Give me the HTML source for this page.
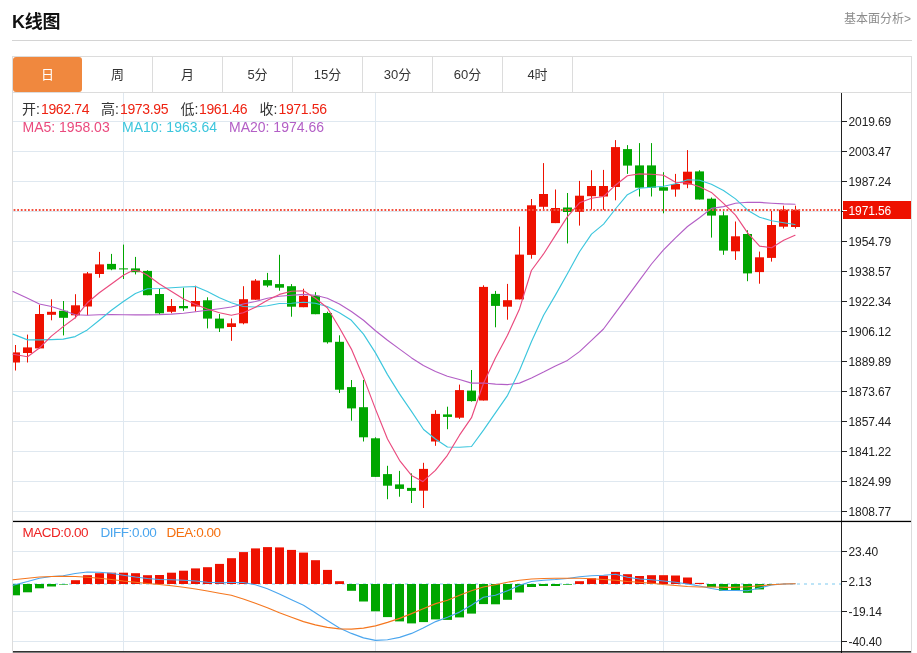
<!DOCTYPE html>
<html lang="zh-CN"><head><meta charset="utf-8"><title>K线图</title>
<style>
html,body{margin:0;padding:0;background:#fff;}
body{width:917px;height:653px;position:relative;overflow:hidden;font-family:"Liberation Sans","Noto Sans CJK SC",sans-serif;color:#333;}
.title{position:absolute;left:12px;top:8.5px;font-size:18px;font-weight:bold;color:#111;line-height:26px;letter-spacing:-0.3px;}
.more{position:absolute;right:6px;top:10px;font-size:12px;color:#8c8c8c;line-height:18px;}
.hr{position:absolute;left:12px;top:40px;width:900px;height:1px;background:#d4d4d4;}
.tabs{position:absolute;left:12px;top:56px;width:898px;height:35px;border:1px solid #dcdcdc;}
.tab{position:absolute;top:0;width:69px;height:35px;border-right:1px solid #dcdcdc;text-align:center;line-height:35px;font-size:13px;color:#333;}
.tab.on{background:#f0883e;color:#fff;border-right:0;border-radius:3px;}
.rb{position:absolute;left:911px;top:92px;width:1px;height:561px;background:#dcdcdc;}
.n{letter-spacing:-0.35px}.s{letter-spacing:-0.5px;word-spacing:-3px}
.t{position:absolute;white-space:nowrap;font-size:14px;line-height:18px;}
svg{position:absolute;left:0;top:0;}
.ax{font-family:"Liberation Sans",sans-serif;font-size:12px;fill:#222;letter-spacing:-0.1px;}
</style></head><body>
<div class="title">K线图</div>
<div class="more">基本面分析&gt;</div>
<div class="hr"></div>
<div class="tabs">
<div class="tab on" style="left:0">日</div>
<div class="tab" style="left:70px">周</div>
<div class="tab" style="left:140px">月</div>
<div class="tab" style="left:210px">5分</div>
<div class="tab" style="left:280px">15分</div>
<div class="tab" style="left:350px">30分</div>
<div class="tab" style="left:420px">60分</div>
<div class="tab" style="left:490px">4时</div>
</div>
<div class="rb"></div>
<svg width="917" height="653" viewBox="0 0 917 653">
<rect x="13" y="121" width="828" height="1" fill="#dfe8f0"/>
<rect x="13" y="151" width="828" height="1" fill="#dfe8f0"/>
<rect x="13" y="181" width="828" height="1" fill="#dfe8f0"/>
<rect x="13" y="211" width="828" height="1" fill="#dfe8f0"/>
<rect x="13" y="241" width="828" height="1" fill="#dfe8f0"/>
<rect x="13" y="271" width="828" height="1" fill="#dfe8f0"/>
<rect x="13" y="301" width="828" height="1" fill="#dfe8f0"/>
<rect x="13" y="331" width="828" height="1" fill="#dfe8f0"/>
<rect x="13" y="361" width="828" height="1" fill="#dfe8f0"/>
<rect x="13" y="391" width="828" height="1" fill="#dfe8f0"/>
<rect x="13" y="421" width="828" height="1" fill="#dfe8f0"/>
<rect x="13" y="451" width="828" height="1" fill="#dfe8f0"/>
<rect x="13" y="481" width="828" height="1" fill="#dfe8f0"/>
<rect x="13" y="511" width="828" height="1" fill="#dfe8f0"/>
<rect x="13" y="551" width="828" height="1" fill="#dfe8f0"/>
<rect x="13" y="611" width="828" height="1" fill="#dfe8f0"/>
<rect x="13" y="641" width="828" height="1" fill="#dfe8f0"/>
<rect x="123" y="93" width="1" height="558" fill="#dfe8f0"/>
<rect x="375" y="93" width="1" height="558" fill="#dfe8f0"/>
<rect x="663" y="93" width="1" height="558" fill="#dfe8f0"/>
<rect x="12" y="93" width="1" height="560" fill="#dcdcdc"/>
<line x1="13" y1="584" x2="841" y2="584" stroke="#a8dcf5" stroke-width="1.5" stroke-dasharray="3,4"/>
<clipPath id="cp"><rect x="13" y="93" width="828" height="560"/></clipPath><g clip-path="url(#cp)">
<rect x="11" y="584" width="9" height="11.3" fill="#00a600"/>
<rect x="23" y="584" width="9" height="8.3" fill="#00a600"/>
<rect x="35" y="584" width="9" height="4.3" fill="#00a600"/>
<rect x="47" y="584" width="9" height="2.5" fill="#00a600"/>
<rect x="59" y="584" width="9" height="0.6" fill="#00a600"/>
<rect x="71" y="580.2" width="9" height="3.8" fill="#ee1100"/>
<rect x="83" y="575.2" width="9" height="8.8" fill="#ee1100"/>
<rect x="95" y="573.2" width="9" height="10.8" fill="#ee1100"/>
<rect x="107" y="572.7" width="9" height="11.3" fill="#ee1100"/>
<rect x="119" y="572.7" width="9" height="11.3" fill="#ee1100"/>
<rect x="131" y="573.2" width="9" height="10.8" fill="#ee1100"/>
<rect x="143" y="575.2" width="9" height="8.8" fill="#ee1100"/>
<rect x="155" y="575.0" width="9" height="9.0" fill="#ee1100"/>
<rect x="167" y="572.7" width="9" height="11.3" fill="#ee1100"/>
<rect x="179" y="570.7" width="9" height="13.3" fill="#ee1100"/>
<rect x="191" y="568.4" width="9" height="15.6" fill="#ee1100"/>
<rect x="203" y="567.2" width="9" height="16.8" fill="#ee1100"/>
<rect x="215" y="563.9" width="9" height="20.1" fill="#ee1100"/>
<rect x="227" y="558.2" width="9" height="25.8" fill="#ee1100"/>
<rect x="239" y="552.1" width="9" height="31.9" fill="#ee1100"/>
<rect x="251" y="548.4" width="9" height="35.6" fill="#ee1100"/>
<rect x="263" y="547.1" width="9" height="36.9" fill="#ee1100"/>
<rect x="275" y="547.4" width="9" height="36.6" fill="#ee1100"/>
<rect x="287" y="549.9" width="9" height="34.1" fill="#ee1100"/>
<rect x="299" y="552.6" width="9" height="31.4" fill="#ee1100"/>
<rect x="311" y="560.2" width="9" height="23.8" fill="#ee1100"/>
<rect x="323" y="569.9" width="9" height="14.1" fill="#ee1100"/>
<rect x="335" y="581.2" width="9" height="2.8" fill="#ee1100"/>
<rect x="347" y="584" width="9" height="6.8" fill="#00a600"/>
<rect x="359" y="584" width="9" height="17.5" fill="#00a600"/>
<rect x="371" y="584" width="9" height="27.3" fill="#00a600"/>
<rect x="383" y="584" width="9" height="33.1" fill="#00a600"/>
<rect x="395" y="584" width="9" height="37.4" fill="#00a600"/>
<rect x="407" y="584" width="9" height="39.4" fill="#00a600"/>
<rect x="419" y="584" width="9" height="38.1" fill="#00a600"/>
<rect x="431" y="584" width="9" height="35.4" fill="#00a600"/>
<rect x="443" y="584" width="9" height="35.9" fill="#00a600"/>
<rect x="455" y="584" width="9" height="33.4" fill="#00a600"/>
<rect x="467" y="584" width="9" height="29.6" fill="#00a600"/>
<rect x="479" y="584" width="9" height="20.1" fill="#00a600"/>
<rect x="491" y="584" width="9" height="20.3" fill="#00a600"/>
<rect x="503" y="584" width="9" height="15.8" fill="#00a600"/>
<rect x="515" y="584" width="9" height="8.5" fill="#00a600"/>
<rect x="527" y="584" width="9" height="3.0" fill="#00a600"/>
<rect x="539" y="584" width="9" height="2.0" fill="#00a600"/>
<rect x="551" y="584" width="9" height="2.0" fill="#00a600"/>
<rect x="563" y="584" width="9" height="0.7" fill="#00a600"/>
<rect x="575" y="581.2" width="9" height="2.8" fill="#ee1100"/>
<rect x="587" y="578.2" width="9" height="5.8" fill="#ee1100"/>
<rect x="599" y="575.7" width="9" height="8.3" fill="#ee1100"/>
<rect x="611" y="571.9" width="9" height="12.1" fill="#ee1100"/>
<rect x="623" y="574.2" width="9" height="9.8" fill="#ee1100"/>
<rect x="635" y="576.0" width="9" height="8.0" fill="#ee1100"/>
<rect x="647" y="575.2" width="9" height="8.8" fill="#ee1100"/>
<rect x="659" y="575.2" width="9" height="8.8" fill="#ee1100"/>
<rect x="671" y="575.5" width="9" height="8.5" fill="#ee1100"/>
<rect x="683" y="577.5" width="9" height="6.5" fill="#ee1100"/>
<rect x="695" y="582.9" width="9" height="1.1" fill="#ee1100"/>
<rect x="707" y="584" width="9" height="3.1" fill="#00a600"/>
<rect x="719" y="584" width="9" height="6.8" fill="#00a600"/>
<rect x="731" y="584" width="9" height="6.2" fill="#00a600"/>
<rect x="743" y="584" width="9" height="8.8" fill="#00a600"/>
<rect x="755" y="584" width="9" height="5.4" fill="#00a600"/>
<rect x="767" y="584" width="9" height="1.0" fill="#00a600"/>
<rect x="15" y="345.0" width="1" height="25.5" fill="#ee1100"/>
<rect x="11" y="352.4" width="9" height="10.1" fill="#ee1100"/>
<rect x="27" y="334.6" width="1" height="27.9" fill="#ee1100"/>
<rect x="23" y="347.4" width="9" height="5.6" fill="#ee1100"/>
<rect x="39" y="304.8" width="1" height="43.6" fill="#ee1100"/>
<rect x="35" y="314.0" width="9" height="34.4" fill="#ee1100"/>
<rect x="51" y="299.3" width="1" height="21.0" fill="#ee1100"/>
<rect x="47" y="311.8" width="9" height="3.0" fill="#ee1100"/>
<rect x="63" y="301.0" width="1" height="34.4" fill="#00a600"/>
<rect x="59" y="310.8" width="9" height="7.0" fill="#00a600"/>
<rect x="75" y="294.2" width="1" height="24.1" fill="#ee1100"/>
<rect x="71" y="305.3" width="9" height="10.0" fill="#ee1100"/>
<rect x="87" y="272.0" width="1" height="43.3" fill="#ee1100"/>
<rect x="83" y="273.4" width="9" height="33.1" fill="#ee1100"/>
<rect x="99" y="251.9" width="1" height="25.8" fill="#ee1100"/>
<rect x="95" y="264.4" width="9" height="9.6" fill="#ee1100"/>
<rect x="111" y="253.9" width="1" height="16.3" fill="#00a600"/>
<rect x="107" y="263.9" width="9" height="5.5" fill="#00a600"/>
<rect x="123" y="244.6" width="1" height="34.4" fill="#00a600"/>
<rect x="119" y="268.4" width="9" height="1.0" fill="#00a600"/>
<rect x="135" y="256.9" width="1" height="17.5" fill="#00a600"/>
<rect x="131" y="268.4" width="9" height="3.8" fill="#00a600"/>
<rect x="147" y="270.2" width="1" height="25.0" fill="#00a600"/>
<rect x="143" y="270.9" width="9" height="24.3" fill="#00a600"/>
<rect x="159" y="289.0" width="1" height="25.8" fill="#00a600"/>
<rect x="155" y="294.0" width="9" height="19.3" fill="#00a600"/>
<rect x="171" y="299.0" width="1" height="14.3" fill="#ee1100"/>
<rect x="167" y="306.0" width="9" height="5.8" fill="#ee1100"/>
<rect x="183" y="287.7" width="1" height="23.1" fill="#00a600"/>
<rect x="179" y="306.0" width="9" height="2.3" fill="#00a600"/>
<rect x="195" y="285.7" width="1" height="25.8" fill="#ee1100"/>
<rect x="191" y="301.0" width="9" height="5.5" fill="#ee1100"/>
<rect x="207" y="297.3" width="1" height="31.1" fill="#00a600"/>
<rect x="203" y="300.3" width="9" height="18.3" fill="#00a600"/>
<rect x="219" y="314.0" width="1" height="18.0" fill="#00a600"/>
<rect x="215" y="318.6" width="9" height="9.8" fill="#00a600"/>
<rect x="231" y="318.5" width="1" height="22.3" fill="#ee1100"/>
<rect x="227" y="323.3" width="9" height="3.7" fill="#ee1100"/>
<rect x="243" y="286.2" width="1" height="38.1" fill="#ee1100"/>
<rect x="239" y="299.2" width="9" height="24.1" fill="#ee1100"/>
<rect x="255" y="279.1" width="1" height="20.6" fill="#ee1100"/>
<rect x="251" y="280.6" width="9" height="19.1" fill="#ee1100"/>
<rect x="267" y="272.9" width="1" height="14.3" fill="#00a600"/>
<rect x="263" y="280.1" width="9" height="5.5" fill="#00a600"/>
<rect x="279" y="254.8" width="1" height="35.9" fill="#00a600"/>
<rect x="275" y="284.1" width="9" height="3.6" fill="#00a600"/>
<rect x="291" y="284.1" width="1" height="32.6" fill="#00a600"/>
<rect x="287" y="286.2" width="9" height="20.5" fill="#00a600"/>
<rect x="303" y="288.7" width="1" height="18.5" fill="#ee1100"/>
<rect x="299" y="295.9" width="9" height="11.3" fill="#ee1100"/>
<rect x="315" y="292.2" width="1" height="22.0" fill="#00a600"/>
<rect x="311" y="295.7" width="9" height="18.5" fill="#00a600"/>
<rect x="327" y="311.7" width="1" height="31.9" fill="#00a600"/>
<rect x="323" y="313.0" width="9" height="29.3" fill="#00a600"/>
<rect x="339" y="335.3" width="1" height="57.7" fill="#00a600"/>
<rect x="335" y="341.8" width="9" height="47.9" fill="#00a600"/>
<rect x="351" y="380.0" width="1" height="40.7" fill="#00a600"/>
<rect x="347" y="387.1" width="9" height="21.3" fill="#00a600"/>
<rect x="363" y="380.0" width="1" height="61.5" fill="#00a600"/>
<rect x="359" y="407.2" width="9" height="30.1" fill="#00a600"/>
<rect x="375" y="437.3" width="1" height="39.6" fill="#00a600"/>
<rect x="371" y="438.3" width="9" height="38.6" fill="#00a600"/>
<rect x="387" y="465.8" width="1" height="33.4" fill="#00a600"/>
<rect x="383" y="474.1" width="9" height="11.6" fill="#00a600"/>
<rect x="399" y="470.9" width="1" height="25.8" fill="#00a600"/>
<rect x="395" y="484.4" width="9" height="4.5" fill="#00a600"/>
<rect x="411" y="473.4" width="1" height="29.6" fill="#00a600"/>
<rect x="407" y="487.9" width="9" height="3.0" fill="#00a600"/>
<rect x="423" y="462.8" width="1" height="45.2" fill="#ee1100"/>
<rect x="419" y="468.9" width="9" height="21.8" fill="#ee1100"/>
<rect x="435" y="410.2" width="1" height="35.6" fill="#ee1100"/>
<rect x="431" y="413.9" width="9" height="27.6" fill="#ee1100"/>
<rect x="447" y="406.7" width="1" height="22.5" fill="#00a600"/>
<rect x="443" y="414.4" width="9" height="2.5" fill="#00a600"/>
<rect x="459" y="384.6" width="1" height="34.3" fill="#ee1100"/>
<rect x="455" y="390.1" width="9" height="27.6" fill="#ee1100"/>
<rect x="471" y="370.0" width="1" height="31.6" fill="#00a600"/>
<rect x="467" y="390.6" width="9" height="10.5" fill="#00a600"/>
<rect x="483" y="285.3" width="1" height="115.2" fill="#ee1100"/>
<rect x="479" y="286.9" width="9" height="113.6" fill="#ee1100"/>
<rect x="495" y="290.9" width="1" height="36.4" fill="#00a600"/>
<rect x="491" y="293.9" width="9" height="12.0" fill="#00a600"/>
<rect x="507" y="283.9" width="1" height="35.8" fill="#ee1100"/>
<rect x="503" y="300.2" width="9" height="6.5" fill="#ee1100"/>
<rect x="519" y="226.6" width="1" height="72.8" fill="#ee1100"/>
<rect x="515" y="254.6" width="9" height="44.8" fill="#ee1100"/>
<rect x="531" y="199.0" width="1" height="59.7" fill="#ee1100"/>
<rect x="527" y="205.3" width="9" height="49.6" fill="#ee1100"/>
<rect x="543" y="163.1" width="1" height="47.2" fill="#ee1100"/>
<rect x="539" y="194.0" width="9" height="12.8" fill="#ee1100"/>
<rect x="555" y="189.5" width="1" height="33.6" fill="#ee1100"/>
<rect x="551" y="208.0" width="9" height="15.1" fill="#ee1100"/>
<rect x="567" y="193.0" width="1" height="50.4" fill="#00a600"/>
<rect x="563" y="207.5" width="9" height="4.5" fill="#00a600"/>
<rect x="579" y="180.9" width="1" height="44.7" fill="#ee1100"/>
<rect x="575" y="195.7" width="9" height="16.1" fill="#ee1100"/>
<rect x="591" y="170.2" width="1" height="39.6" fill="#ee1100"/>
<rect x="587" y="186.0" width="9" height="10.2" fill="#ee1100"/>
<rect x="603" y="169.9" width="1" height="39.9" fill="#ee1100"/>
<rect x="599" y="186.0" width="9" height="10.5" fill="#ee1100"/>
<rect x="615" y="140.1" width="1" height="60.2" fill="#ee1100"/>
<rect x="611" y="147.1" width="9" height="39.9" fill="#ee1100"/>
<rect x="627" y="145.1" width="1" height="28.8" fill="#00a600"/>
<rect x="623" y="149.1" width="9" height="16.5" fill="#00a600"/>
<rect x="639" y="143.1" width="1" height="53.4" fill="#00a600"/>
<rect x="635" y="165.4" width="9" height="22.3" fill="#00a600"/>
<rect x="651" y="143.1" width="1" height="53.4" fill="#00a600"/>
<rect x="647" y="165.4" width="9" height="22.3" fill="#00a600"/>
<rect x="663" y="172.2" width="1" height="41.1" fill="#00a600"/>
<rect x="659" y="187.2" width="9" height="3.5" fill="#00a600"/>
<rect x="675" y="173.9" width="1" height="22.8" fill="#ee1100"/>
<rect x="671" y="184.0" width="9" height="5.5" fill="#ee1100"/>
<rect x="687" y="150.1" width="1" height="38.1" fill="#ee1100"/>
<rect x="683" y="171.7" width="9" height="12.8" fill="#ee1100"/>
<rect x="699" y="170.2" width="1" height="29.3" fill="#00a600"/>
<rect x="695" y="171.4" width="9" height="28.1" fill="#00a600"/>
<rect x="711" y="197.5" width="1" height="40.1" fill="#00a600"/>
<rect x="707" y="198.7" width="9" height="16.9" fill="#00a600"/>
<rect x="723" y="211.5" width="1" height="43.3" fill="#00a600"/>
<rect x="719" y="215.3" width="9" height="35.3" fill="#00a600"/>
<rect x="735" y="221.5" width="1" height="38.4" fill="#ee1100"/>
<rect x="731" y="236.3" width="9" height="15.0" fill="#ee1100"/>
<rect x="747" y="230.3" width="1" height="50.9" fill="#00a600"/>
<rect x="743" y="234.0" width="9" height="39.4" fill="#00a600"/>
<rect x="759" y="251.6" width="1" height="32.1" fill="#ee1100"/>
<rect x="755" y="257.3" width="9" height="14.8" fill="#ee1100"/>
<rect x="771" y="211.0" width="1" height="50.6" fill="#ee1100"/>
<rect x="767" y="225.0" width="9" height="32.9" fill="#ee1100"/>
<rect x="783" y="205.7" width="1" height="22.8" fill="#ee1100"/>
<rect x="779" y="209.7" width="9" height="17.0" fill="#ee1100"/>
<rect x="795" y="205.7" width="1" height="22.8" fill="#ee1100"/>
<rect x="791" y="209.7" width="9" height="17.3" fill="#ee1100"/>
</g>
<polyline points="13.0,291.5 27.6,298.3 39.4,304.0 51.4,306.5 63.2,310.3 75.2,314.8 87.3,315.3 99.3,314.8 111.4,314.6 123.4,314.8 135.4,314.8 147.5,314.8 159.5,314.6 171.6,314.1 183.6,313.3 195.6,311.8 207.4,310.3 219.5,308.7 231.3,307.0 243.3,304.0 255.4,301.5 267.4,298.2 279.4,296.2 291.5,295.2 303.5,294.4 315.3,295.2 327.3,298.2 339.4,304.0 351.4,311.5 363.5,320.3 375.5,330.8 387.5,340.3 399.6,349.1 411.6,357.9 423.4,365.6 435.5,371.5 447.4,376.3 459.5,379.5 471.5,383.1 483.5,383.0 495.5,384.1 507.5,384.6 519.5,383.1 531.5,378.0 543.6,372.1 555.4,365.9 567.4,360.4 579.5,351.6 591.5,340.3 603.5,329.0 615.6,312.7 627.6,296.4 639.6,280.1 651.5,264.0 663.5,249.8 675.5,237.8 687.5,226.5 699.5,217.7 711.5,208.4 723.5,206.6 735.5,203.2 747.6,202.2 759.6,202.4 771.6,203.2 783.7,203.9 795.0,204.2" fill="none" stroke="#b35fc6" stroke-width="1.15" stroke-linejoin="round" stroke-linecap="round"/>
<polyline points="13.0,334.1 27.6,339.9 39.4,339.9 51.4,339.6 63.2,339.1 75.2,336.6 87.3,329.9 99.3,320.3 111.4,310.3 123.4,301.5 135.4,293.5 147.5,288.7 159.5,288.5 171.6,287.7 183.6,287.0 195.6,286.5 207.4,291.5 219.5,297.8 231.3,302.7 243.3,306.5 255.4,307.0 267.4,305.7 279.4,303.5 291.5,303.2 303.5,302.2 315.3,303.2 327.3,306.5 339.4,312.7 351.4,320.3 363.5,334.1 375.5,352.9 387.5,374.6 399.5,393.9 411.5,411.4 423.6,429.5 435.4,439.0 447.4,447.0 459.5,447.3 471.5,446.5 483.5,430.2 495.6,412.7 507.6,395.3 519.6,370.2 531.5,341.5 543.6,315.2 555.4,295.1 567.4,273.8 579.5,251.7 591.5,234.1 603.6,224.1 615.4,209.0 627.4,194.7 639.5,188.2 651.5,187.2 663.5,186.2 675.6,183.7 687.6,179.7 699.6,180.3 711.4,184.3 723.5,190.5 735.5,198.9 747.6,210.2 759.6,217.2 771.6,220.7 783.7,222.7 795.0,224.5" fill="none" stroke="#3cc6dd" stroke-width="1.15" stroke-linejoin="round" stroke-linecap="round"/>
<polyline points="13.0,354.2 27.6,356.7 39.4,348.0 51.4,336.1 63.2,326.6 75.2,317.8 87.3,302.8 99.3,292.7 111.4,284.0 123.4,275.2 133.0,270.2 140.5,271.4 147.5,275.2 159.5,284.0 171.6,291.5 183.6,299.0 195.6,304.5 207.4,309.0 219.5,312.8 231.3,315.2 243.3,312.7 255.4,307.2 267.4,300.2 279.4,294.4 291.5,291.2 303.5,290.7 315.3,298.2 327.3,307.7 339.4,327.8 351.4,349.1 363.5,377.4 375.4,408.9 387.5,439.0 399.5,460.3 411.5,475.4 422.8,481.6 435.4,470.4 447.4,455.3 459.5,435.2 471.5,417.7 483.4,383.5 495.4,357.9 507.5,335.3 519.5,308.9 531.4,270.5 543.4,254.2 555.4,235.4 567.5,216.6 579.5,202.8 591.5,198.3 603.6,196.5 615.4,185.2 627.4,175.7 639.5,173.9 651.5,174.2 663.5,175.2 675.6,182.3 687.6,183.0 699.6,186.8 711.4,192.4 723.5,203.4 735.5,215.2 747.6,232.8 759.6,246.1 771.6,247.8 783.7,240.3 795.0,235.3" fill="none" stroke="#ea4a7e" stroke-width="1.15" stroke-linejoin="round" stroke-linecap="round"/>
<polyline points="13.0,585.2 27.6,581.5 39.4,578.2 51.4,576.5 63.2,575.7 75.2,573.5 87.3,572.0 99.3,572.2 111.4,573.2 123.4,575.2 135.4,577.0 147.5,578.5 159.5,579.5 171.6,579.7 183.6,580.2 195.6,581.0 207.4,582.2 219.5,582.7 231.3,582.5 243.3,582.5 255.4,584.7 267.4,588.8 279.4,594.0 291.5,599.8 303.5,605.3 315.3,612.8 327.3,620.4 339.4,627.9 351.4,633.4 363.5,637.9 375.5,640.4 387.5,639.7 399.6,637.4 411.6,633.4 423.2,627.9 435.7,621.6 447.5,617.3 459.6,612.1 471.4,605.3 483.4,597.3 495.4,595.3 507.5,590.8 519.5,585.2 531.5,581.5 543.6,580.2 555.4,579.5 567.4,578.5 579.5,576.7 591.5,575.7 603.5,575.2 615.6,574.2 627.6,577.2 639.6,579.0 651.4,579.7 663.5,581.0 675.5,582.3 687.5,584.0 699.5,586.0 711.5,588.5 723.5,590.5 735.5,590.5 747.5,590.8 759.5,588.0 771.5,585.0 783.5,584.0 795.0,583.7" fill="none" stroke="#4ba6ee" stroke-width="1.15" stroke-linejoin="round" stroke-linecap="round"/>
<polyline points="13.0,579.7 27.6,578.2 39.4,577.0 51.4,576.5 63.2,576.2 75.2,576.5 87.3,577.2 99.3,578.2 111.4,579.5 123.4,581.0 135.4,582.2 147.5,583.5 159.5,584.5 171.6,585.7 183.6,587.3 195.6,589.0 207.4,591.0 219.5,593.3 231.3,595.3 243.3,599.0 255.4,603.3 267.4,607.8 279.4,612.8 291.5,617.3 303.5,621.6 315.3,624.9 327.3,627.4 339.4,628.9 351.4,629.1 363.5,628.1 375.5,625.9 387.5,622.4 399.6,618.4 411.6,613.6 423.2,608.8 435.7,603.6 447.5,600.3 459.6,595.3 471.4,590.8 483.4,587.0 495.4,584.7 507.5,582.2 519.5,580.2 531.5,579.0 543.6,578.5 555.4,578.2 567.4,578.2 579.5,578.2 591.5,578.7 603.5,579.5 615.6,580.2 627.6,581.5 639.6,582.2 651.4,583.2 663.5,584.5 675.5,585.5 687.5,586.5 699.5,587.0 711.5,587.0 723.5,587.3 735.5,587.3 747.5,586.8 759.5,585.8 771.5,584.7 783.5,584.0 795.0,583.7" fill="none" stroke="#f5771f" stroke-width="1.15" stroke-linejoin="round" stroke-linecap="round"/>
<line x1="13.6" y1="210" x2="840" y2="210" stroke="#f2503f" stroke-width="2" stroke-dasharray="1.8,1.8"/>
<rect x="841" y="93" width="1" height="560" fill="#222"/>
<rect x="13" y="520.8" width="898" height="1.3" fill="#000"/>
<rect x="13" y="651.2" width="898" height="1.3" fill="#000"/>
<rect x="842" y="121" width="5" height="1" fill="#222"/>
<text x="848.5" y="125.8" class="ax">2019.69</text>
<rect x="842" y="151" width="5" height="1" fill="#222"/>
<text x="848.5" y="155.8" class="ax">2003.47</text>
<rect x="842" y="181" width="5" height="1" fill="#222"/>
<text x="848.5" y="185.8" class="ax">1987.24</text>
<rect x="842" y="211" width="5" height="1" fill="#222"/>
<rect x="842" y="241" width="5" height="1" fill="#222"/>
<text x="848.5" y="245.8" class="ax">1954.79</text>
<rect x="842" y="271" width="5" height="1" fill="#222"/>
<text x="848.5" y="275.8" class="ax">1938.57</text>
<rect x="842" y="301" width="5" height="1" fill="#222"/>
<text x="848.5" y="305.8" class="ax">1922.34</text>
<rect x="842" y="331" width="5" height="1" fill="#222"/>
<text x="848.5" y="335.8" class="ax">1906.12</text>
<rect x="842" y="361" width="5" height="1" fill="#222"/>
<text x="848.5" y="365.8" class="ax">1889.89</text>
<rect x="842" y="391" width="5" height="1" fill="#222"/>
<text x="848.5" y="395.8" class="ax">1873.67</text>
<rect x="842" y="421" width="5" height="1" fill="#222"/>
<text x="848.5" y="425.8" class="ax">1857.44</text>
<rect x="842" y="451" width="5" height="1" fill="#222"/>
<text x="848.5" y="455.8" class="ax">1841.22</text>
<rect x="842" y="481" width="5" height="1" fill="#222"/>
<text x="848.5" y="485.8" class="ax">1824.99</text>
<rect x="842" y="511" width="5" height="1" fill="#222"/>
<text x="848.5" y="515.8" class="ax">1808.77</text>
<rect x="842" y="551" width="5" height="1" fill="#222"/>
<text x="848.5" y="555.8" class="ax">23.40</text>
<rect x="842" y="581" width="5" height="1" fill="#222"/>
<text x="848.5" y="585.8" class="ax">2.13</text>
<rect x="842" y="611" width="5" height="1" fill="#222"/>
<text x="848.5" y="615.8" class="ax">-19.14</text>
<rect x="842" y="641" width="5" height="1" fill="#222"/>
<text x="848.5" y="645.8" class="ax">-40.40</text>
<rect x="843" y="201" width="68" height="18" fill="#ee1100"/>
<rect x="842" y="210" width="5" height="1" fill="#fff"/>
<text x="848.5" y="214.8" class="ax" style="fill:#fff">1971.56</text>
</svg>
<div class="t" id="l1a" style="left:22px;top:100px">开:</div><div class="t n" id="n1a" style="left:41px;top:100px;color:#ee2211">1962.74</div>
<div class="t" id="l1b" style="left:101px;top:100px">高:</div><div class="t n" id="n1b" style="left:120px;top:100px;color:#ee2211">1973.95</div>
<div class="t" id="l1c" style="left:180.5px;top:100px">低:</div><div class="t n" id="n1c" style="left:199px;top:100px;color:#ee2211">1961.46</div>
<div class="t" id="l1d" style="left:259.5px;top:100px">收:</div><div class="t n" id="n1d" style="left:278.5px;top:100px;color:#ee2211">1971.56</div>
<div class="t" id="m5" style="left:22.5px;top:118px;color:#ea4a7e">MA5: 1958.03</div>
<div class="t" id="m10" style="left:122px;top:118px;color:#3cc6dd">MA10: 1963.64</div>
<div class="t" id="m20" style="left:229px;top:118px;color:#b35fc6">MA20: 1974.66</div>
<div class="t s" id="k1" style="left:22.5px;top:524px;color:#ee2222;font-size:13.5px">MACD: 0.00</div>
<div class="t s" id="k2" style="left:100.5px;top:524px;color:#4ba6ee;font-size:13.5px">DIFF: 0.00</div>
<div class="t s" id="k3" style="left:166.5px;top:524px;color:#f5700f;font-size:13.5px">DEA: 0.00</div>
</body></html>
